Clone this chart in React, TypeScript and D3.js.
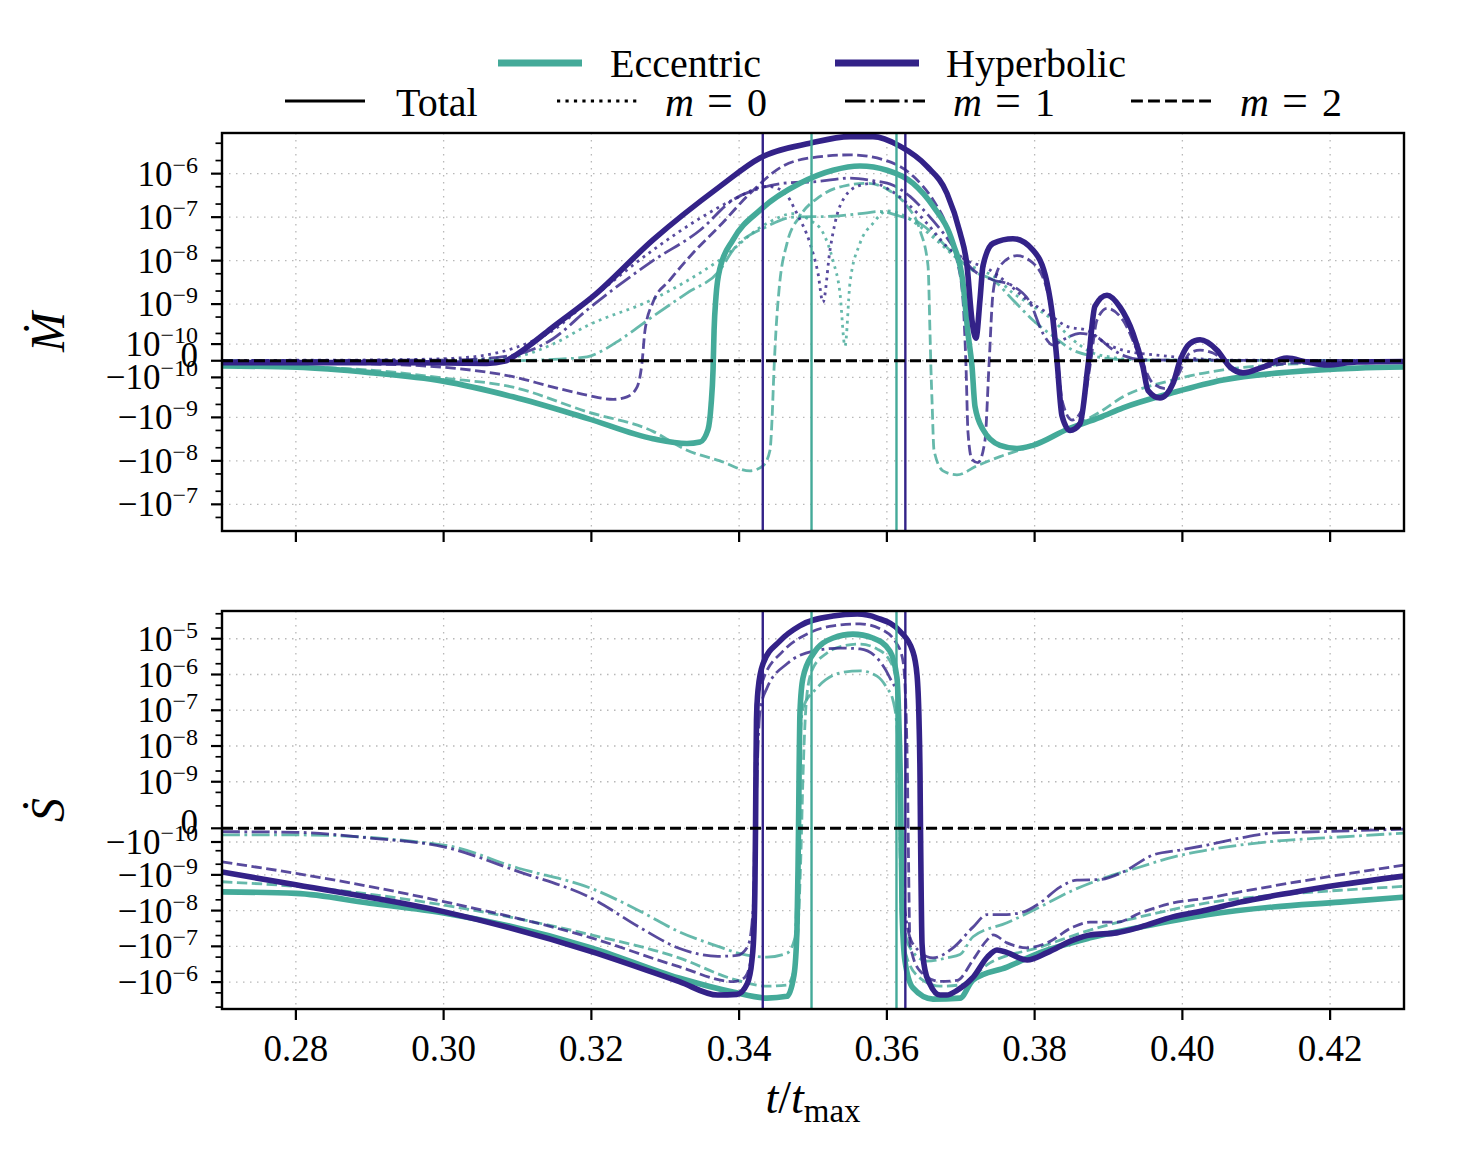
import { useEffect, useRef } from 'react';
import * as d3 from 'd3';

type Pt = [number, number];
type Kind = 'total' | 'm0' | 'm1' | 'm2';

const ECC = '#44AA99';
const HYP = '#332288';

const xTicks = [0.28, 0.3, 0.32, 0.34, 0.36, 0.38, 0.4, 0.42];
const mdotTicks = [1e-6, 1e-7, 1e-8, 1e-9, 1e-10, 0, -1e-10, -1e-9, -1e-8, -1e-7];
const sdotTicks = [1e-5, 1e-6, 1e-7, 1e-8, 1e-9, 0, -1e-10, -1e-9, -1e-8, -1e-7, -1e-6];
const minorMantissas = [2, 5];
const minorDecades = [-10, -9, -8, -7, -6, -5, -4];

// times of the vertical markers
const eccMarks = [0.3498, 0.3613];
const hypMarks = [0.3432, 0.3625];

// ---- mass flux, [t/tmax, value] ----
const mdotEccTotal: Pt[] = [
  [0.27, -2.8e-11], [0.28015, -3.5e-11], [0.29003, -6.7e-11], [0.29992, -1.3e-10],
  [0.30939, -3.3e-10], [0.31941, -1.05e-9], [0.32834, -3.1e-9], [0.33294, -4.0e-9],
  [0.3347, -3.7e-9], [0.33579, -1.9e-9], [0.3362, -5.2e-10], [0.33647, -5e-11],
  [0.33661, 2.4e-10], [0.33687, 1.5e-9], [0.33741, 6.7e-9], [0.33917, 3.0e-8],
  [0.34283, 1.45e-7], [0.34824, 6.0e-7], [0.35271, 1.2e-6], [0.35636, 1.5e-6],
  [0.36002, 1.2e-6], [0.36354, 6.0e-7], [0.36624, 1.8e-7], [0.36895, 2.5e-8],
  [0.3703, 3.1e-9], [0.37098, 2.0e-10], [0.37152, -2.8e-11], [0.37193, -5.6e-10],
  [0.37301, -1.9e-9], [0.37531, -4.4e-9], [0.37761, -5.2e-9], [0.37978, -4.4e-9],
  [0.38438, -1.9e-9], [0.38885, -1.0e-9], [0.39196, -6.0e-10], [0.39873, -2.6e-10],
  [0.4055, -1.2e-10], [0.41457, -6.3e-11], [0.42364, -4.0e-11], [0.43, -3.4e-11],
];
const mdotEccM0: Pt[] = [
  [0.27, 1e-12], [0.30127, 4e-12], [0.30939, 2e-11], [0.31481, 1.0e-10], [0.31941, 3.1e-10],
  [0.32834, 1.3e-9], [0.33741, 1.05e-8], [0.34377, 7.2e-8], [0.34729, 1.2e-7],
  [0.34959, 8.5e-8], [0.35135, 4.4e-8], [0.35271, 1.0e-8], [0.35365, 1.8e-9],
  [0.35433, 8.5e-11], [0.35501, 3.1e-9], [0.35636, 2.5e-8], [0.35812, 7.2e-8],
  [0.36002, 1.4e-7], [0.36177, 1.2e-7], [0.36448, 6.1e-8], [0.36719, 2.5e-8],
  [0.3699, 1.0e-8], [0.37261, 6.1e-9], [0.37437, 4.5e-9], [0.37707, 1.8e-9],
  [0.37978, 9.0e-10], [0.38249, 4.2e-10], [0.38519, 1.35e-10], [0.3879, 4.2e-11],
  [0.3902, 2e-11], [0.39427, 4e-12], [0.43, 1e-12],
];
const mdotEccM1: Pt[] = [
  [0.27, 1e-12], [0.30939, 1e-12], [0.31481, 7e-12], [0.31941, 2.1e-11], [0.32157, 5.8e-11],
  [0.32388, 1.35e-10], [0.32834, 5.2e-10], [0.33294, 1.8e-9], [0.33741, 6.1e-9],
  [0.33917, 1.75e-8], [0.34377, 6.1e-8], [0.34729, 1.0e-7], [0.35271, 1.05e-7],
  [0.35636, 1.2e-7], [0.35907, 1.35e-7], [0.36177, 1.05e-7], [0.36448, 7.2e-8],
  [0.36719, 2.9e-8], [0.3699, 1.0e-8], [0.3722, 5.2e-9], [0.37437, 3.6e-9],
  [0.37707, 1.25e-9], [0.37978, 4.2e-10], [0.38249, 1.7e-10], [0.38519, 5.9e-11],
  [0.3879, 2.5e-11], [0.39291, 4e-12], [0.43, 1e-12],
];
const mdotEccM2: Pt[] = [
  [0.27, -2.3e-11], [0.29003, -5.1e-11], [0.29992, -1.05e-10], [0.30939, -1.9e-10],
  [0.31941, -7.4e-10], [0.32834, -2.1e-9], [0.33294, -5.7e-9], [0.33741, -1.0e-8],
  [0.34147, -1.7e-8], [0.34323, -1.3e-8], [0.34418, -5.7e-9], [0.34445, -1.15e-9],
  [0.34472, -5e-11], [0.34499, 2.4e-10], [0.3454, 2.1e-9], [0.34648, 2.5e-8],
  [0.34824, 1.05e-7], [0.35095, 3.0e-7], [0.3546, 5.4e-7], [0.35731, 6.0e-7],
  [0.36042, 4.0e-7], [0.36272, 1.8e-7], [0.36448, 5.0e-8], [0.36557, 7.6e-9],
  [0.36584, 2.0e-10], [0.36597, -5e-11], [0.36611, -4.0e-10], [0.36638, -5.7e-9],
  [0.3676, -1.7e-8], [0.36949, -2.1e-8], [0.3722, -1.3e-8], [0.37531, -8.0e-9],
  [0.37978, -4.4e-9], [0.38438, -1.9e-9], [0.38885, -7.5e-10], [0.39196, -3.3e-10],
  [0.39873, -1.2e-10], [0.4055, -5e-11], [0.41227, -2.3e-11], [0.41904, -1.2e-11],
  [0.43, -7e-12],
];
const mdotHypTotal: Pt[] = [
  [0.27, -1.0e-11], [0.29409, -1.0e-11], [0.30587, -1.4e-11], [0.30831, -2e-12],
  [0.30939, 2.1e-11], [0.31169, 9.3e-11], [0.31481, 2.9e-10], [0.32022, 1.5e-9],
  [0.32834, 3.0e-8], [0.33741, 5.1e-7], [0.34283, 2.3e-6], [0.34959, 5.0e-6],
  [0.35501, 7.1e-6], [0.35812, 7.1e-6], [0.36177, 4.3e-6], [0.36543, 1.47e-6],
  [0.36814, 3.5e-7], [0.3699, 4.4e-8], [0.37085, 7.6e-9], [0.37152, 4.2e-10],
  [0.37206, 1.5e-10], [0.37261, 1.3e-9], [0.37301, 7.6e-9], [0.37437, 2.5e-8],
  [0.37707, 3.2e-8], [0.37978, 1.75e-8], [0.38168, 3.1e-9], [0.38249, 4.2e-10],
  [0.38303, 0], [0.38371, -9.3e-10], [0.38479, -2.0e-9], [0.38614, -1.4e-9],
  [0.38722, -2.8e-11], [0.38817, 9.0e-10], [0.3898, 1.6e-9], [0.39156, 8.5e-10],
  [0.39332, 2.0e-10], [0.39467, -3.4e-11], [0.39535, -2.3e-10], [0.39697, -3.5e-10],
  [0.39873, -1.5e-10], [0.39968, 0], [0.40103, 1.05e-10], [0.40239, 1.35e-10],
  [0.40469, 5.9e-11], [0.40645, -3.4e-11], [0.40821, -6.9e-11], [0.41091, -3.4e-11],
  [0.41416, 1.4e-11], [0.41687, -7e-12], [0.41958, -2.3e-11], [0.42364, -7e-12],
  [0.43, -4e-12],
];
const mdotHypM0: Pt[] = [
  [0.27, 2e-12], [0.29003, 4e-12], [0.30127, 1.3e-11], [0.30939, 7e-11], [0.31481, 2.4e-10],
  [0.31941, 1.1e-9], [0.32834, 1.75e-8], [0.3347, 9.4e-8], [0.33917, 2.5e-7],
  [0.34377, 5.1e-7], [0.34594, 4.0e-7], [0.34783, 1.2e-7], [0.34959, 2.5e-8],
  [0.35067, 5.2e-9], [0.35135, 1.1e-9], [0.3523, 1.75e-8], [0.35365, 1.8e-7],
  [0.35596, 5.1e-7], [0.35812, 6.0e-7], [0.36042, 4.2e-7], [0.36272, 2.1e-7],
  [0.36543, 7.2e-8], [0.36814, 2.1e-8], [0.37085, 1.0e-8], [0.37355, 6.7e-9],
  [0.37626, 3.1e-9], [0.37897, 1.25e-9], [0.38168, 6.3e-10], [0.38438, 3.0e-10],
  [0.38709, 2.4e-10], [0.3898, 1.0e-10], [0.39196, 5.9e-11], [0.39656, 3e-11],
  [0.40103, 1.4e-11], [0.4055, 4e-12], [0.43, 1e-12],
];
const mdotHypM1: Pt[] = [
  [0.27, 1e-12], [0.30127, 4e-12], [0.30939, 3e-11], [0.31481, 1.45e-10], [0.31941, 7.3e-10],
  [0.32834, 1.0e-8], [0.3347, 5.0e-8], [0.33917, 2.5e-7], [0.34283, 4.6e-7],
  [0.34594, 6.0e-7], [0.35061, 6.6e-7], [0.35501, 7.9e-7], [0.35812, 6.9e-7],
  [0.36083, 5.4e-7], [0.36313, 3.0e-7], [0.36543, 1.2e-7], [0.3676, 4.4e-8],
  [0.3699, 1.3e-8], [0.3722, 5.2e-9], [0.37437, 3.6e-9], [0.37707, 2.6e-9],
  [0.37937, 1.1e-9], [0.38113, 2.0e-10], [0.38249, 9.3e-11], [0.38384, 1.35e-10],
  [0.38614, 2.0e-10], [0.38844, 1.6e-10], [0.3902, 7.5e-11], [0.39223, 2.5e-11],
  [0.39494, 4e-12], [0.43, 1e-12],
];
const mdotHypM2: Pt[] = [
  [0.27, -7e-12], [0.29003, -1.7e-11], [0.30127, -4.0e-11], [0.30939, -9.5e-11],
  [0.31481, -1.9e-10], [0.31941, -3.0e-10], [0.32293, -3.8e-10], [0.32482, -3.3e-10],
  [0.32618, -1.9e-10], [0.32685, -1.2e-11], [0.32726, 2.4e-10], [0.32834, 1.1e-9],
  [0.33064, 3.6e-9], [0.33376, 1.5e-8], [0.33741, 6.4e-8], [0.34147, 3.5e-7],
  [0.34594, 1.5e-6], [0.34959, 2.3e-6], [0.35501, 2.7e-6], [0.35948, 2.1e-6],
  [0.36354, 8.8e-7], [0.36624, 2.5e-7], [0.36814, 6.1e-8], [0.36949, 1.05e-8],
  [0.3703, 1.25e-9], [0.37071, -2.8e-11], [0.37098, -2.2e-9], [0.37152, -9.3e-9],
  [0.37234, -1.1e-8], [0.37328, -3.4e-9], [0.37382, -2.8e-11], [0.37437, 1.8e-9],
  [0.37531, 7.6e-9], [0.37761, 1.3e-8], [0.37978, 8.8e-9], [0.38168, 2.1e-9],
  [0.38249, 4.2e-10], [0.38316, -1.2e-11], [0.38371, -4.0e-10], [0.38506, -1.15e-9],
  [0.38641, -6.7e-10], [0.3875, -2.8e-11], [0.38844, 4.2e-10], [0.3898, 8.0e-10],
  [0.39196, 4.2e-10], [0.39427, 2e-11], [0.39602, -1.5e-10], [0.39792, -2.1e-10],
  [0.39927, -9.6e-11], [0.40103, 4.2e-11], [0.40239, 5.9e-11], [0.40415, 4.2e-11],
  [0.40685, -4e-11], [0.40875, -6.3e-11], [0.41146, -3.4e-11], [0.41457, -1.2e-11],
  [0.43, -7e-12],
];

// ---- spin flux, [t/tmax, value] ----
const sdotEccTotal: Pt[] = [
  [0.27, -3.0e-9], [0.28, -3.3e-9], [0.29, -6.2e-9], [0.3, -1.17e-8], [0.32, -1.1e-7],
  [0.33186, -7.7e-7], [0.33917, -1.9e-6], [0.34377, -2.8e-6], [0.34648, -2.5e-6],
  [0.34743, -6.3e-7], [0.34783, -3.5e-8], [0.34797, -7.3e-10], [0.34804, 0],
  [0.34811, 1.3e-9], [0.34824, 9.5e-8], [0.34864, 8.0e-7], [0.35, 3.7e-6],
  [0.35271, 1.05e-5], [0.35541, 1.35e-5], [0.35812, 1.05e-5], [0.36042, 4.5e-6],
  [0.36137, 8.0e-7], [0.36165, 3.2e-8], [0.36185, 5.9e-10], [0.36198, -3.8e-10],
  [0.36205, -1.0e-8], [0.36245, -2.6e-7], [0.36353, -1.46e-6], [0.36624, -3.0e-6],
  [0.3699, -2.8e-6], [0.37166, -8.7e-7], [0.37626, -3.8e-7], [0.38073, -1.5e-7],
  [0.3875, -5.8e-8], [0.39427, -2.9e-8], [0.40333, -1.3e-8], [0.41227, -7.9e-9],
  [0.42134, -5.8e-9], [0.43, -4.2e-9],
];
const sdotEccM1: Pt[] = [
  [0.27, -4.4e-11], [0.28, -4.4e-11], [0.3, -1.3e-10], [0.31014, -6.5e-10], [0.32, -2.4e-9],
  [0.32672, -1.07e-8], [0.33186, -3.9e-8], [0.33714, -1.0e-7], [0.34012, -1.6e-7],
  [0.34377, -2.0e-7], [0.34648, -1.55e-7], [0.34756, -5.8e-8], [0.34797, -1.1e-10],
  [0.34824, 1.1e-8], [0.34864, 1.15e-7], [0.35054, 4.2e-7], [0.35366, 1.1e-6],
  [0.35636, 1.27e-6], [0.35866, 9.0e-7], [0.36001, 4.2e-7], [0.36083, 1.9e-7],
  [0.36137, 3.2e-8], [0.36165, 5.9e-10], [0.36178, -1.1e-10], [0.36205, -1.0e-8],
  [0.36313, -1.1e-7], [0.36543, -2.6e-7], [0.36814, -2.1e-7], [0.3699, -1.7e-7],
  [0.37166, -5.4e-8], [0.37626, -2.2e-8], [0.38073, -7.9e-9], [0.38519, -2.7e-9],
  [0.3898, -1.15e-9], [0.39427, -6.0e-10], [0.39873, -3.1e-10], [0.40333, -1.9e-10],
  [0.4078, -1.3e-10], [0.41227, -9.4e-11], [0.42134, -5.9e-11], [0.43, -3.1e-11],
];
const sdotEccM2: Pt[] = [
  [0.27, -1.56e-9], [0.28, -2.1e-9], [0.3, -7.0e-9], [0.32, -4.8e-8], [0.33186, -2.1e-7],
  [0.33917, -8.2e-7], [0.34377, -1.3e-6], [0.34648, -1.2e-6], [0.34743, -4.6e-7],
  [0.34797, -3.5e-8], [0.34838, -1.9e-10], [0.34864, 1.3e-9], [0.34919, 2.9e-7],
  [0.35, 1.5e-6], [0.3519, 4.0e-6], [0.35413, 6.3e-6], [0.35636, 7.1e-6],
  [0.35866, 5.2e-6], [0.36042, 2.4e-6], [0.36137, 5.4e-7], [0.36165, 3.2e-8],
  [0.36171, 5.9e-10], [0.36178, -1.1e-10], [0.36205, -3.0e-8], [0.36272, -2.1e-7],
  [0.36449, -7.7e-7], [0.36719, -1.3e-6], [0.3699, -1.2e-6], [0.37396, -2.9e-7],
  [0.38073, -1.05e-7], [0.3875, -3.5e-8], [0.39427, -1.5e-8], [0.40333, -6.1e-9],
  [0.41227, -3.7e-9], [0.42134, -2.7e-9], [0.43, -2.1e-9],
];
const sdotHypTotal: Pt[] = [
  [0.27, -8.3e-10], [0.28, -1.9e-9], [0.3, -1.07e-8], [0.32, -1.4e-7], [0.3319, -9.7e-7],
  [0.3371, -2.3e-6], [0.3397, -2.2e-6], [0.3411, -1.1e-6], [0.34174, -2.4e-7],
  [0.34201, -3.5e-8], [0.34215, -1.4e-9], [0.34222, 0], [0.34228, 2.1e-9],
  [0.34235, 5.3e-8], [0.34256, 3.7e-7], [0.34323, 2.0e-6], [0.3455, 8.6e-6],
  [0.3482, 2.3e-5], [0.3527, 4.3e-5], [0.356, 4.9e-5], [0.3587, 3.8e-5],
  [0.3618, 1.6e-5], [0.3635, 4.5e-6], [0.36408, 9.7e-7], [0.36435, 5.3e-8],
  [0.36449, 1.3e-9], [0.36455, 0], [0.36462, -1.2e-9], [0.36476, -8.6e-8],
  [0.36516, -4.6e-7], [0.3658, -1.1e-6], [0.3672, -2.3e-6], [0.3681, -2.3e-6],
  [0.3695, -1.7e-6], [0.3717, -7.2e-7], [0.3736, -2.0e-7], [0.3749, -1.26e-7],
  [0.3763, -1.5e-7], [0.379, -2.4e-7], [0.3817, -1.5e-7], [0.3852, -6.7e-8],
  [0.3875, -4.8e-8], [0.3911, -4.2e-8], [0.3943, -2.9e-8], [0.3987, -1.5e-8],
  [0.4033, -9.6e-9], [0.4078, -5.8e-9], [0.4146, -3.2e-9], [0.4213, -1.9e-9],
  [0.43, -1.08e-9],
];
const sdotHypM1: Pt[] = [
  [0.27, -2.2e-11], [0.28, -2.6e-11], [0.29044, -6.9e-11], [0.3, -1.5e-10],
  [0.31014, -8.1e-10], [0.32, -4.5e-9], [0.32672, -3.1e-8], [0.33186, -1.13e-7],
  [0.33714, -1.9e-7], [0.33971, -1.8e-7], [0.3412, -9.8e-8], [0.34188, -1.0e-8],
  [0.34215, -3.8e-10], [0.34242, 1.3e-9], [0.34283, 9.5e-8], [0.34377, 4.2e-7],
  [0.34648, 2.0e-6], [0.35, 4.5e-6], [0.35366, 5.5e-6], [0.35636, 5.2e-6],
  [0.35866, 2.9e-6], [0.36042, 8.0e-7], [0.36151, 2.2e-7], [0.36178, 1.1e-8],
  [0.36191, 3.0e-10], [0.36205, -1.1e-10], [0.36245, -1.0e-8], [0.36353, -8.6e-8],
  [0.36624, -2.1e-7], [0.36895, -1.1e-7], [0.37166, -2.9e-8], [0.37355, -1.3e-8],
  [0.37572, -1.3e-8], [0.37843, -1.1e-8], [0.38073, -6.1e-9], [0.38343, -2.2e-9],
  [0.38574, -1.4e-9], [0.38885, -1.35e-9], [0.39196, -8.3e-10], [0.39602, -2.7e-10],
  [0.39968, -1.9e-10], [0.40333, -1.3e-10], [0.4078, -6.7e-11], [0.41227, -3.1e-11],
  [0.41687, -2.4e-11], [0.42134, -1.8e-11], [0.43, -5e-12],
];
const sdotHypM2: Pt[] = [
  [0.27, -4.3e-10], [0.28, -9.1e-10], [0.3, -5.6e-9], [0.32, -5.8e-8], [0.33186, -3.7e-7],
  [0.33917, -9.7e-7], [0.34066, -7.7e-7], [0.34147, -3.3e-7], [0.34188, -3.5e-8],
  [0.34208, -7.8e-11], [0.34215, 5.9e-10], [0.34228, 1.4e-7], [0.34323, 7.0e-7],
  [0.34594, 4.5e-6], [0.34919, 1.35e-5], [0.35271, 2.3e-5], [0.35636, 2.6e-5],
  [0.35907, 1.9e-5], [0.36137, 7.1e-6], [0.36218, 2.4e-6], [0.36259, 9.5e-8],
  [0.36279, 1.3e-9], [0.36293, -3.8e-10], [0.36313, -8.6e-8], [0.36449, -4.9e-7],
  [0.36719, -9.6e-7], [0.36949, -9.0e-7], [0.37166, -2.4e-7], [0.37355, -6.7e-8],
  [0.37437, -4.8e-8], [0.37626, -8.0e-8], [0.37897, -1.1e-7], [0.38168, -8.0e-8],
  [0.38519, -2.9e-8], [0.3875, -2.1e-8], [0.39115, -2.1e-8], [0.39427, -1.17e-8],
  [0.39873, -6.1e-9], [0.40333, -4.5e-9], [0.4078, -3.0e-9], [0.41457, -1.7e-9],
  [0.42134, -1.0e-9], [0.43, -5.3e-10],
];

const W = 1464;
const H = 1156;
const AX_LEFT = 222;
const AX_RIGHT = 1404;
const LIN_WIDTH = 1e-10;
const FONT = "'Liberation Serif', 'DejaVu Serif', serif";

// asinh axis: linear near zero, logarithmic beyond the linear width
const asinhT = (v: number) => Math.asinh(v / LIN_WIDTH);

const lineStyle: Record<Kind, { width: number; dash: string | null; opacity: number }> = {
  total: { width: 5.6, dash: null, opacity: 1 },
  m0: { width: 2.8, dash: '2.8,4.6', opacity: 0.82 },
  m1: { width: 2.8, dash: '17.9,4.5,2.8,4.5', opacity: 0.82 },
  m2: { width: 2.8, dash: '10.4,4.5', opacity: 0.82 },
};

interface Series { data: Pt[]; color: string; kind: Kind }
interface Panel {
  top: number; bottom: number; ylim: [number, number]; ticks: number[];
  label: string; xLabels: boolean; series: Series[];
}

const panels: Panel[] = [
  {
    top: 133, bottom: 531, ylim: [-4.1e-7, 8.6e-6], ticks: mdotTicks, label: 'Ṁ', xLabels: false,
    series: [
      { data: mdotEccM0, color: ECC, kind: 'm0' },
      { data: mdotEccM1, color: ECC, kind: 'm1' },
      { data: mdotEccM2, color: ECC, kind: 'm2' },
      { data: mdotHypM0, color: HYP, kind: 'm0' },
      { data: mdotHypM1, color: HYP, kind: 'm1' },
      { data: mdotHypM2, color: HYP, kind: 'm2' },
      { data: mdotEccTotal, color: ECC, kind: 'total' },
      { data: mdotHypTotal, color: HYP, kind: 'total' },
    ],
  },
  {
    top: 611, bottom: 1009, ylim: [-5.65e-6, 5.97e-5], ticks: sdotTicks, label: 'Ṡ', xLabels: true,
    series: [
      { data: sdotEccM1, color: ECC, kind: 'm1' },
      { data: sdotEccM2, color: ECC, kind: 'm2' },
      { data: sdotHypM1, color: HYP, kind: 'm1' },
      { data: sdotHypM2, color: HYP, kind: 'm2' },
      { data: sdotEccTotal, color: ECC, kind: 'total' },
      { data: sdotHypTotal, color: HYP, kind: 'total' },
    ],
  },
];

export default function App() {
  const svgRef = useRef<SVGSVGElement>(null);

  useEffect(() => {
    if (!svgRef.current) return;
    const svg = d3.select(svgRef.current);
    svg.selectAll('*').remove();

    const x = d3.scaleLinear().domain([0.27, 0.43]).range([AX_LEFT, AX_RIGHT]);

    panels.forEach((p, i) => {
      const yT = d3.scaleLinear().domain(p.ylim.map(asinhT)).range([p.bottom, p.top]);
      const y = (v: number) => yT(asinhT(v));
      const inRange = (v: number) => v >= p.ylim[0] && v <= p.ylim[1];

      const clipId = `panel-clip-${i}`;
      svg.append('clipPath').attr('id', clipId)
        .append('rect')
        .attr('x', AX_LEFT).attr('y', p.top)
        .attr('width', AX_RIGHT - AX_LEFT).attr('height', p.bottom - p.top);

      const g = svg.append('g');
      const plot = g.append('g').attr('clip-path', `url(#${clipId})`);

      // dotted grid
      xTicks.forEach(t => {
        plot.append('line')
          .attr('x1', x(t)).attr('x2', x(t)).attr('y1', p.top).attr('y2', p.bottom)
          .attr('stroke', '#b8b8b8').attr('stroke-width', 1.3).attr('stroke-dasharray', '1.5,5.5');
      });
      p.ticks.forEach(v => {
        plot.append('line')
          .attr('x1', AX_LEFT).attr('x2', AX_RIGHT).attr('y1', y(v)).attr('y2', y(v))
          .attr('stroke', '#b8b8b8').attr('stroke-width', 1.3).attr('stroke-dasharray', '1.5,5.5');
      });

      // flux curves
      const line = d3.line<Pt>()
        .x(d => x(d[0]))
        .y(d => y(d[1]))
        .curve(d3.curveMonotoneX);
      p.series.forEach(s => {
        const st = lineStyle[s.kind];
        plot.append('path')
          .datum(s.data)
          .attr('d', line)
          .attr('fill', 'none')
          .attr('stroke', s.color)
          .attr('stroke-width', st.width)
          .attr('stroke-opacity', st.opacity)
          .attr('stroke-linejoin', 'round')
          .attr('stroke-dasharray', st.dash);
      });

      // vertical markers
      const marks: [number, string][] = [
        ...hypMarks.map(t => [t, HYP] as [number, string]),
        ...eccMarks.map(t => [t, ECC] as [number, string]),
      ];
      marks.forEach(([t, c]) => {
        plot.append('line')
          .attr('x1', x(t)).attr('x2', x(t)).attr('y1', p.top).attr('y2', p.bottom)
          .attr('stroke', c).attr('stroke-width', 2.4);
      });

      // zero reference
      plot.append('line')
        .attr('x1', AX_LEFT).attr('x2', AX_RIGHT).attr('y1', y(0)).attr('y2', y(0))
        .attr('stroke', '#000').attr('stroke-width', 3).attr('stroke-dasharray', '11,5');

      // frame
      g.append('rect')
        .attr('x', AX_LEFT).attr('y', p.top)
        .attr('width', AX_RIGHT - AX_LEFT).attr('height', p.bottom - p.top)
        .attr('fill', 'none').attr('stroke', '#000').attr('stroke-width', 2.4);

      // y ticks
      p.ticks.forEach(v => {
        g.append('line')
          .attr('x1', AX_LEFT - 11).attr('x2', AX_LEFT).attr('y1', y(v)).attr('y2', y(v))
          .attr('stroke', '#000').attr('stroke-width', 2.2);
      });
      const minors: number[] = [];
      minorDecades.forEach(k => minorMantissas.forEach(m => {
        minors.push(m * Math.pow(10, k), -m * Math.pow(10, k));
      }));
      minors.filter(inRange).forEach(v => {
        g.append('line')
          .attr('x1', AX_LEFT - 6.5).attr('x2', AX_LEFT).attr('y1', y(v)).attr('y2', y(v))
          .attr('stroke', '#000').attr('stroke-width', 1.7);
      });

      // y tick labels
      p.ticks.forEach(v => {
        const txt = g.append('text')
          .attr('x', 198)
          .attr('text-anchor', 'end')
          .attr('font-family', FONT)
          .attr('font-size', 35)
          .attr('fill', '#000');
        if (v === 0) {
          txt.attr('y', y(v) + 6).text('0');
          return;
        }
        const exp = Math.round(Math.log10(Math.abs(v)));
        txt.attr('y', y(v) + 12);
        txt.append('tspan').text((v < 0 ? '−' : '') + '10');
        txt.append('tspan').attr('dy', -13).attr('font-size', 24).text('−' + Math.abs(exp));
      });

      // x ticks
      xTicks.forEach(t => {
        g.append('line')
          .attr('x1', x(t)).attr('x2', x(t)).attr('y1', p.bottom).attr('y2', p.bottom + 11)
          .attr('stroke', '#000').attr('stroke-width', 2.2);
        if (p.xLabels) {
          g.append('text')
            .attr('x', x(t)).attr('y', p.bottom + 52)
            .attr('text-anchor', 'middle')
            .attr('font-family', FONT).attr('font-size', 37)
            .text(d3.format('.2f')(t));
        }
      });

      // y axis label
      g.append('text')
        .attr('transform', `translate(64,${(p.top + p.bottom) / 2}) rotate(-90)`)
        .attr('text-anchor', 'middle')
        .attr('font-family', FONT).attr('font-size', 48).attr('font-style', 'italic')
        .text(p.label);
    });

    // x axis label
    const xl = svg.append('text')
      .attr('x', 813).attr('y', 1113)
      .attr('text-anchor', 'middle')
      .attr('font-family', FONT).attr('font-size', 46);
    xl.append('tspan').attr('font-style', 'italic').text('t');
    xl.append('tspan').text('/');
    xl.append('tspan').attr('font-style', 'italic').text('t');
    xl.append('tspan').attr('dy', 9).attr('font-size', 33).text('max');

    // legend, first row: models
    const legendModels = [
      { label: 'Eccentric', color: ECC, x0: 498, tx: 610 },
      { label: 'Hyperbolic', color: HYP, x0: 835, tx: 946 },
    ];
    legendModels.forEach(e => {
      svg.append('line')
        .attr('x1', e.x0).attr('x2', e.x0 + 84).attr('y1', 63).attr('y2', 63)
        .attr('stroke', e.color).attr('stroke-width', 7);
      svg.append('text')
        .attr('x', e.tx).attr('y', 77)
        .attr('font-family', FONT).attr('font-size', 40)
        .text(e.label);
    });

    // legend, second row: line styles
    const legendKinds: { kind: Kind; m: string | null; x0: number; tx: number }[] = [
      { kind: 'total', m: null, x0: 285, tx: 396 },
      { kind: 'm0', m: '0', x0: 557, tx: 665 },
      { kind: 'm1', m: '1', x0: 845, tx: 953 },
      { kind: 'm2', m: '2', x0: 1131, tx: 1240 },
    ];
    legendKinds.forEach(e => {
      const st = lineStyle[e.kind];
      svg.append('line')
        .attr('x1', e.x0).attr('x2', e.x0 + 80).attr('y1', 101).attr('y2', 101)
        .attr('stroke', '#000').attr('stroke-width', 3.2)
        .attr('stroke-dasharray', st.dash ? st.dash.split(',').map(d => +d * 3.2 / st.width).join(',') : null);
      const t = svg.append('text')
        .attr('x', e.tx).attr('y', 116)
        .attr('font-family', FONT).attr('font-size', 40);
      if (e.m === null) {
        t.text('Total');
      } else {
        t.append('tspan').attr('font-style', 'italic').text('m');
        t.append('tspan').attr('x', e.tx + 42).attr('font-size', 46).text('=');
        t.append('tspan').attr('x', e.tx + 82).text(e.m);
      }
    });
  }, []);

  return (
    <svg
      ref={svgRef}
      width={W}
      height={H}
      style={{ position: 'absolute', left: 0, top: 0, background: '#fff' }}
    />
  );
}
